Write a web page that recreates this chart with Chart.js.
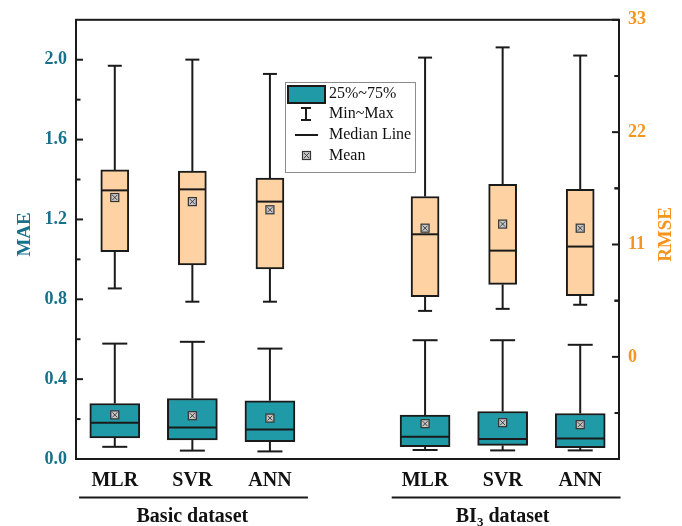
<!DOCTYPE html>
<html>
<head>
<meta charset="utf-8">
<script src="https://cdn.jsdelivr.net/npm/chart.js@4/dist/chart.umd.min.js"></script>
<style>
  html, body { margin: 0; padding: 0; background: #fff; }
  canvas { display: block; }
</style>
</head>
<body>
<canvas id="chart" width="682" height="526"></canvas>
<script>
// Model names per slot; slot 3 is the gap between the two datasets
const categories = ['MLR', 'SVR', 'ANN', '', 'MLR', 'SVR', 'ANN'];
const groupNames = ['Basic dataset', 'BI3 dataset'];

// MAE distribution (left axis)
const maeMin    = [0.061, 0.042, 0.038, null, 0.045, 0.043, 0.043];
const maeQ1     = [0.106, 0.095, 0.087, null, 0.062, 0.068, 0.057];
const maeMedian = [0.181, 0.158, 0.148, null, 0.112, 0.100, 0.103];
const maeQ3     = [0.278, 0.303, 0.292, null, 0.220, 0.238, 0.228];
const maeMax    = [0.578, 0.587, 0.553, null, 0.595, 0.595, 0.572];
const maeMean   = [0.221, 0.217, 0.205, null, 0.177, 0.182, 0.172];

// RMSE distribution (right axis)
const rmseMin    = [6.7, 5.4, 5.4, null, 4.5, 4.7, 5.1];
const rmseQ1     = [10.3, 9.0, 8.6, null, 5.9, 7.1, 6.0];
const rmseMedian = [16.3, 16.4, 15.2, null, 12.0, 10.4, 10.8];
const rmseQ3     = [18.3, 18.2, 17.5, null, 15.7, 16.9, 16.4];
const rmseMax    = [28.5, 29.1, 27.7, null, 29.3, 30.3, 29.5];
const rmseMean   = [15.6, 15.2, 14.4, null, 12.6, 13.0, 12.6];

// Axis tick labels
const maeTicks  = [0.0, 0.4, 0.8, 1.2, 1.6, 2.0];
const rmseTicks = [0, 11, 22, 33];

const SERIF = '"Liberation Serif", "Times New Roman", serif';
const TEAL = '#1f9aa6';
const TEAL_TEXT = '#17718a';
const PEACH = '#ffd2a3';
const ORANGE_TEXT = '#f7941d';
const INK = '#1a1a1a';

const boxSets = [
  { axis: 'yR', min: rmseMin, q1: rmseQ1, med: rmseMedian, q3: rmseQ3, max: rmseMax, mean: rmseMean, width: 28 },
  { axis: 'yL', min: maeMin, q1: maeQ1, med: maeMedian, q3: maeQ3, max: maeMax, mean: maeMean, width: 50 }
];

function drawMeanMarker(ctx, x, y) {
  const s = 8;
  ctx.save();
  ctx.fillStyle = '#c6c6c6';
  ctx.strokeStyle = '#333';
  ctx.lineWidth = 1.2;
  ctx.fillRect(x - s / 2, y - s / 2, s, s);
  ctx.strokeRect(x - s / 2, y - s / 2, s, s);
  ctx.lineWidth = 0.9;
  ctx.beginPath();
  ctx.moveTo(x - s / 2 + 1.5, y - s / 2 + 1.5); ctx.lineTo(x + s / 2 - 1.5, y + s / 2 - 1.5);
  ctx.moveTo(x + s / 2 - 1.5, y - s / 2 + 1.5); ctx.lineTo(x - s / 2 + 1.5, y + s / 2 - 1.5);
  ctx.stroke();
  ctx.restore();
}

function line(ctx, x1, y1, x2, y2) {
  ctx.beginPath(); ctx.moveTo(x1, y1); ctx.lineTo(x2, y2); ctx.stroke();
}

const boxPlotParts = {
  id: 'boxPlotParts',
  beforeDatasetsDraw(chart) {
    const { ctx, scales } = chart;
    ctx.save();
    ctx.strokeStyle = INK;
    ctx.lineWidth = 2;
    boxSets.forEach(b => {
      const ys = scales[b.axis];
      b.min.forEach((v, i) => {
        if (v == null) return;
        const x = scales.x.getPixelForValue(i);
        const cap = b.width / 4;
        const yMin = ys.getPixelForValue(b.min[i]);
        const yMax = ys.getPixelForValue(b.max[i]);
        line(ctx, x, ys.getPixelForValue(b.q3[i]), x, yMax);
        line(ctx, x, ys.getPixelForValue(b.q1[i]), x, yMin);
        line(ctx, x - cap, yMax, x + cap, yMax);
        line(ctx, x - cap, yMin, x + cap, yMin);
      });
    });
    ctx.restore();
  },
  afterDatasetsDraw(chart) {
    const { ctx, scales } = chart;
    ctx.save();
    ctx.strokeStyle = INK;
    ctx.lineWidth = 2;
    boxSets.forEach(b => {
      const ys = scales[b.axis];
      b.med.forEach((v, i) => {
        if (v == null) return;
        const x = scales.x.getPixelForValue(i);
        const y = ys.getPixelForValue(v);
        line(ctx, x - b.width / 2 + 1, y, x + b.width / 2 - 1, y);
      });
      b.mean.forEach((v, i) => {
        if (v == null) return;
        drawMeanMarker(ctx, scales.x.getPixelForValue(i), ys.getPixelForValue(v));
      });
    });
    ctx.restore();
  },
  afterDraw(chart) {
    const { ctx, chartArea: a, scales } = chart;
    ctx.save();
    // plot frame
    ctx.strokeStyle = INK;
    ctx.lineWidth = 2;
    ctx.strokeRect(a.left, a.top, a.right - a.left, a.bottom - a.top);

    // inward tick marks, major and minor
    const yL = scales.yL, yR = scales.yR;
    maeTicks.forEach(t => {
      const y = yL.getPixelForValue(t);
      line(ctx, a.left, y, a.left + 7, y);
      const m = t + 0.2;
      if (m < yL.max - 1e-9) { const ym = yL.getPixelForValue(m); line(ctx, a.left, ym, a.left + 4.5, ym); }
    });
    rmseTicks.forEach(t => {
      const y = yR.getPixelForValue(t);
      line(ctx, a.right, y, a.right - 7, y);
      [t - 5.5, t + 5.5].forEach(m => {
        if (m > yR.min && m < yR.max && !rmseTicks.includes(m)) {
          const ym = yR.getPixelForValue(m); line(ctx, a.right, ym, a.right - 4.5, ym);
        }
      });
    });

    // axis titles, both reading upward
    ctx.font = 'bold 19px ' + SERIF;
    ctx.textAlign = 'center';
    ctx.textBaseline = 'middle';
    [['MAE', 25, TEAL_TEXT], ['RMSE', 666, ORANGE_TEXT]].forEach(([t, x, c]) => {
      ctx.save();
      ctx.translate(x, (a.top + a.bottom) / 2 - 5);
      ctx.rotate(-Math.PI / 2);
      ctx.fillStyle = c;
      ctx.fillText(t, 0, 0);
      ctx.restore();
    });

    // dataset group underlines and names
    const x = scales.x;
    const spans = [[-0.46, 2.49, 1], [3.57, 6.52, 5]];
    ctx.lineWidth = 2;
    ctx.fillStyle = '#111';
    spans.forEach(([s, e, c], gi) => {
      line(ctx, x.getPixelForValue(s), 497.5, x.getPixelForValue(e), 497.5);
      const cx = x.getPixelForValue(c);
      const name = groupNames[gi];
      const big = 'bold 20px ' + SERIF, small = 'bold 13px ' + SERIF;
      ctx.textBaseline = 'alphabetic';
      ctx.textAlign = 'left';
      const m = name.match(/^(BI)(3)( .*)$/);
      if (m) {
        ctx.font = big; const w1 = ctx.measureText(m[1]).width, w3 = ctx.measureText(m[3]).width;
        ctx.font = small; const w2 = ctx.measureText(m[2]).width;
        let px = cx - (w1 + w2 + w3) / 2;
        ctx.font = big; ctx.fillText(m[1], px, 522); px += w1;
        ctx.font = small; ctx.fillText(m[2], px, 526); px += w2;
        ctx.font = big; ctx.fillText(m[3], px, 522);
      } else {
        ctx.font = big;
        ctx.textAlign = 'center';
        ctx.fillText(name, cx, 522);
      }
    });

    // legend
    const L = { x: 285.5, y: 82.5, w: 130, h: 90 };
    ctx.fillStyle = '#fff';
    ctx.fillRect(L.x, L.y, L.w, L.h);
    ctx.strokeStyle = '#8c8c8c';
    ctx.lineWidth = 1;
    ctx.strokeRect(L.x, L.y, L.w, L.h);
    ctx.strokeStyle = INK;
    ctx.lineWidth = 2;
    ctx.fillStyle = TEAL;
    ctx.fillRect(288, 86, 37, 17);
    ctx.strokeRect(288, 86, 37, 17);
    // min~max glyph
    line(ctx, 306, 108, 306, 120);
    line(ctx, 301, 108, 311, 108);
    line(ctx, 301, 120, 311, 120);
    // median glyph
    line(ctx, 295, 135, 318, 135);
    drawMeanMarker(ctx, 306.5, 155.5);
    ctx.fillStyle = '#111';
    ctx.font = '16px ' + SERIF;
    ctx.textAlign = 'left';
    ctx.textBaseline = 'middle';
    ['25%~75%', 'Min~Max', 'Median Line', 'Mean'].forEach((t, i) => {
      ctx.fillText(t, 329, [94, 114, 135, 156][i]);
    });
    ctx.restore();
  }
};

new Chart(document.getElementById('chart'), {
  type: 'bar',
  data: {
    labels: categories,
    datasets: boxSets.map((b, k) => ({
      label: k === 0 ? 'RMSE' : 'MAE',
      data: b.q1.map((q, i) => (q == null ? null : [q, b.q3[i]])),
      yAxisID: b.axis,
      backgroundColor: k === 0 ? PEACH : TEAL,
      borderColor: INK,
      borderWidth: 2,
      borderSkipped: false,
      barThickness: b.width,
      grouped: false
    }))
  },
  options: {
    responsive: false,
    devicePixelRatio: 1,
    animation: false,
    layout: { padding: { top: 19, left: 0, right: 0, bottom: 0 } },
    plugins: { legend: { display: false }, tooltip: { enabled: false } },
    scales: {
      x: {
        type: 'category',
        offset: true,
        grid: { display: false, drawTicks: false },
        border: { display: false },
        ticks: { color: '#111', font: { family: SERIF, size: 20, weight: 'bold' }, padding: 10, autoSkip: false, maxRotation: 0 },
        afterFit(s) { s.height = 67; }
      },
      yL: {
        position: 'left',
        min: 0, max: 2.2,
        grid: { display: false, drawTicks: false },
        border: { display: false },
        ticks: { color: TEAL_TEXT, font: { family: SERIF, size: 18, weight: 'bold' }, padding: 9, callback: v => Number(v).toFixed(1) },
        afterBuildTicks(s) { s.ticks = maeTicks.map(v => ({ value: v })); },
        afterFit(s) { s.width = 76; }
      },
      yR: {
        position: 'right',
        min: -10, max: 33,
        grid: { display: false, drawTicks: false },
        border: { display: false },
        ticks: { color: ORANGE_TEXT, font: { family: SERIF, size: 18, weight: 'bold' }, padding: 9, callback: v => String(v) },
        afterBuildTicks(s) { s.ticks = rmseTicks.map(v => ({ value: v })); },
        afterFit(s) { s.width = 63; }
      }
    }
  },
  plugins: [boxPlotParts]
});
</script>
</body>
</html>
